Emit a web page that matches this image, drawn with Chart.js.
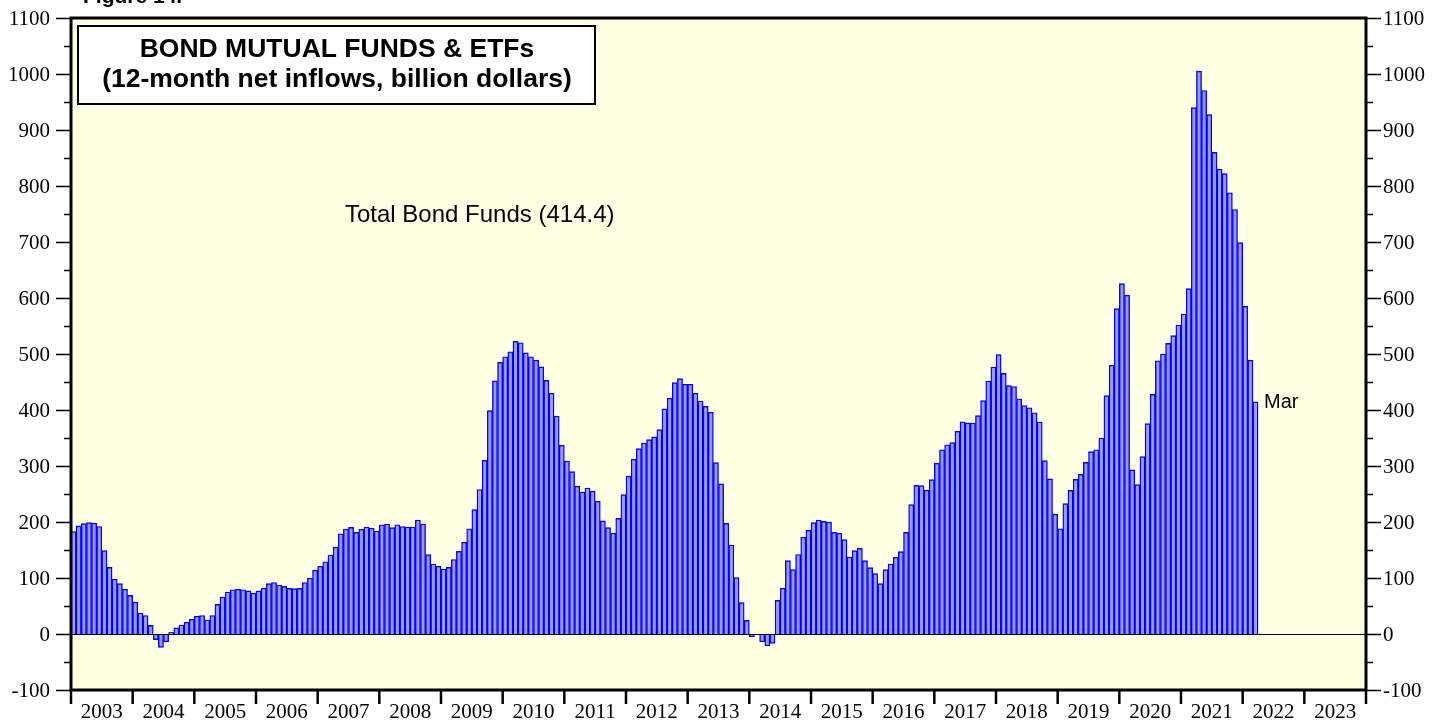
<!DOCTYPE html>
<html>
<head>
<meta charset="utf-8">
<script src="https://cdn.jsdelivr.net/npm/chart.js@4"></script>
<style>
  html, body { margin: 0; padding: 0; background: #ffffff; }
  #wrap { width: 1448px; height: 721px; }
</style>
</head>
<body>
<div id="wrap"><canvas id="bondChart" width="1448" height="721"></canvas></div>
<script>
// Years shown on the x axis (each year = 12 monthly slots)
const years = [2003, 2004, 2005, 2006, 2007, 2008, 2009, 2010, 2011, 2012, 2013,
  2014, 2015, 2016, 2017, 2018, 2019, 2020, 2021, 2022, 2023];

// 12-month net inflows, billion dollars (Jan 2003 .. Mar 2022)
const inflows = [
  183, 193, 197, 199, 198, 192, 149, 119, 98, 90, 80, 69,            // 2003
  57, 37.5, 33, 15.5, -10, -24, -14, 3, 11, 16, 21, 26,              // 2004
  32, 33, 25, 33, 53, 66, 75, 79, 80, 79, 77, 73,                    // 2005
  77, 82, 90, 92, 87.5, 85, 81.5, 81, 81.5, 92, 100, 114,            // 2006
  121, 129, 141, 155, 179, 187.5, 190.5, 181.5, 187, 191, 189, 184,  // 2007
  195, 196.5, 190, 195, 192, 191, 191, 203.5, 196.5, 141.7, 125, 121, // 2008
  116, 119, 133, 147.6, 164, 188, 222, 258, 310, 399, 452, 485,      // 2009
  495, 504, 522.6, 520, 502, 495, 489, 477, 453, 430, 389, 337,      // 2010
  309, 290, 264, 253.6, 260.7, 255, 237, 202, 190, 180, 206.5, 249,  // 2011
  282, 312, 331, 341, 347, 352, 365, 402, 421, 449, 456, 446,        // 2012
  446, 430, 416, 406.5, 396, 306, 268, 197.6, 159, 100.6, 56, 24.4,  // 2013
  -4.8, -1, -14, -21, -16.7, 60, 82, 131, 115, 142, 173, 185,        // 2014
  199, 203.6, 201, 200, 181.5, 180, 168.5, 137.5, 149, 153, 131, 118.5, // 2015
  107.7, 90, 115, 125, 137, 147, 181.5, 231, 265.5, 265, 257, 275.6, // 2016
  305, 329, 338, 341.7, 362, 379, 377, 376.8, 390, 416.7, 451.8, 476.8, // 2017
  498.8, 465.5, 443.5, 442, 420, 408, 404, 395, 378.6, 309.5, 277, 214, // 2018
  188, 232.7, 256.5, 276, 285, 306.5, 325.6, 329, 350, 425.6, 480, 581, // 2019
  625.6, 605, 293, 266.7, 316.7, 375.6, 428, 488, 500, 519, 532.7, 551.8, // 2020
  571.4, 616.7, 940, 1005, 970.6, 927.5, 860, 830, 822, 788, 758, 699, // 2021
  585, 489, 414.4                                                    // 2022
];

// Y axis tick labels
const yTicks = [-100, 0, 100, 200, 300, 400, 500, 600, 700, 800, 900, 1000, 1100];

const titleLines = ["BOND MUTUAL FUNDS & ETFs", "(12-month net inflows, billion dollars)"];
const seriesLabel = "Total Bond Funds (414.4)";
const lastMonthLabel = "Mar";

// ==================== BUILD CATEGORIES ====================
const monthLabels = [];
years.forEach(function (y) {
  for (let m = 1; m <= 12; m++) monthLabels.push(y + "-" + (m < 10 ? "0" + m : m));
});
const barData = monthLabels.map(function (_, i) {
  return i < inflows.length ? inflows[i] : null;
});

const SERIF = "'Liberation Serif', 'Times New Roman', serif";
const SANS = "'Liberation Sans', Arial, sans-serif";

// Background: white page, light yellow plot area
const backgroundPlugin = {
  id: "background",
  beforeDraw: function (chart) {
    const ctx = chart.ctx;
    const a = chart.chartArea;
    ctx.save();
    ctx.fillStyle = "#ffffff";
    ctx.fillRect(0, 0, chart.width, chart.height);
    ctx.fillStyle = "#ffffe3";
    ctx.fillRect(a.left, a.top, a.right - a.left, a.bottom - a.top);
    ctx.restore();
  }
};

// Frame, axes, ticks, labels and text boxes
const decorPlugin = {
  id: "decor",
  afterDatasetsDraw: function (chart) {
    const ctx = chart.ctx;
    const a = chart.chartArea;
    const xs = chart.scales.x;
    const ys = chart.scales.y;
    ctx.save();

    // zero line
    const y0 = ys.getPixelForValue(0);
    ctx.strokeStyle = "#000";
    ctx.lineWidth = 1;
    ctx.beginPath();
    ctx.moveTo(a.left, Math.round(y0) + 0.5);
    ctx.lineTo(a.right, Math.round(y0) + 0.5);
    ctx.stroke();

    // y ticks, left and right
    ctx.font = "21px " + SERIF;
    ctx.fillStyle = "#000";
    ctx.textBaseline = "middle";
    ctx.lineWidth = 1.5;
    for (let v = -100; v <= 1100; v += 50) {
      const py = Math.round(ys.getPixelForValue(v)) + 0.5;
      const len = v % 100 === 0 ? 15 : 7;
      ctx.beginPath();
      ctx.moveTo(a.left - len, py);
      ctx.lineTo(a.left, py);
      ctx.moveTo(a.right, py);
      ctx.lineTo(a.right + len, py);
      ctx.stroke();
    }
    yTicks.forEach(function (v) {
      const py = ys.getPixelForValue(v);
      ctx.textAlign = "right";
      ctx.fillText(String(v), a.left - 21, py + 1);
      ctx.textAlign = "left";
      ctx.fillText(String(v), a.right + 17, py + 1);
    });

    // x ticks at year boundaries + year labels
    const half = (xs.getPixelForValue(1) - xs.getPixelForValue(0)) / 2;
    ctx.lineWidth = 2.5;
    for (let i = 0; i <= years.length; i++) {
      const px = i < years.length ? xs.getPixelForValue(i * 12) - half : a.right;
      ctx.beginPath();
      ctx.moveTo(px, a.bottom);
      ctx.lineTo(px, a.bottom + 14);
      ctx.stroke();
    }
    ctx.textAlign = "center";
    years.forEach(function (y, i) {
      const left = xs.getPixelForValue(i * 12) - half;
      const right = xs.getPixelForValue(i * 12 + 11) + half;
      ctx.fillText(String(y), (left + right) / 2, a.bottom + 22);
    });

    // plot frame
    ctx.lineWidth = 3;
    ctx.strokeRect(a.left, a.top, a.right - a.left, a.bottom - a.top);

    // title box
    ctx.fillStyle = "#ffffff";
    ctx.fillRect(78, 26, 517, 78);
    ctx.lineWidth = 2;
    ctx.strokeStyle = "#000";
    ctx.strokeRect(78, 26, 517, 78);
    ctx.fillStyle = "#000";
    ctx.font = "bold 26.5px " + SANS;
    ctx.textAlign = "center";
    ctx.textBaseline = "alphabetic";
    ctx.fillText(titleLines[0], 337, 57);
    ctx.fillText(titleLines[1], 337, 87);

    // series label
    ctx.font = "24px " + SANS;
    ctx.textAlign = "left";
    ctx.fillText(seriesLabel, 345, 222);

    // last month label next to last bar
    const lastIdx = inflows.length - 1;
    ctx.font = "20px " + SANS;
    ctx.textBaseline = "middle";
    ctx.fillText(lastMonthLabel, xs.getPixelForValue(lastIdx) + half + 6,
      ys.getPixelForValue(inflows[lastIdx]) + 1);

    // figure caption, cut off at the top
    ctx.font = "bold 21px " + SANS;
    ctx.textBaseline = "alphabetic";
    ctx.fillText("Figure 14.", 83, 3);

    ctx.restore();
  }
};

document.addEventListener("DOMContentLoaded", function () {
  const ctx = document.getElementById("bondChart").getContext("2d");
  new Chart(ctx, {
    type: "bar",
    data: {
      labels: monthLabels,
      datasets: [{
        label: seriesLabel,
        data: barData,
        backgroundColor: "#9999ff",
        borderColor: "#0000ff",
        borderWidth: 1.4,
        barPercentage: 1,
        categoryPercentage: 1
      }]
    },
    options: {
      responsive: false,
      animation: false,
      events: [],
      layout: { padding: { left: 71, right: 82, top: 18, bottom: 31 } },
      plugins: {
        legend: { display: false },
        tooltip: { enabled: false }
      },
      scales: {
        x: { display: false, offset: true },
        y: { display: false, min: -100, max: 1100 }
      }
    },
    plugins: [backgroundPlugin, decorPlugin]
  });
});
</script>
</body>
</html>
